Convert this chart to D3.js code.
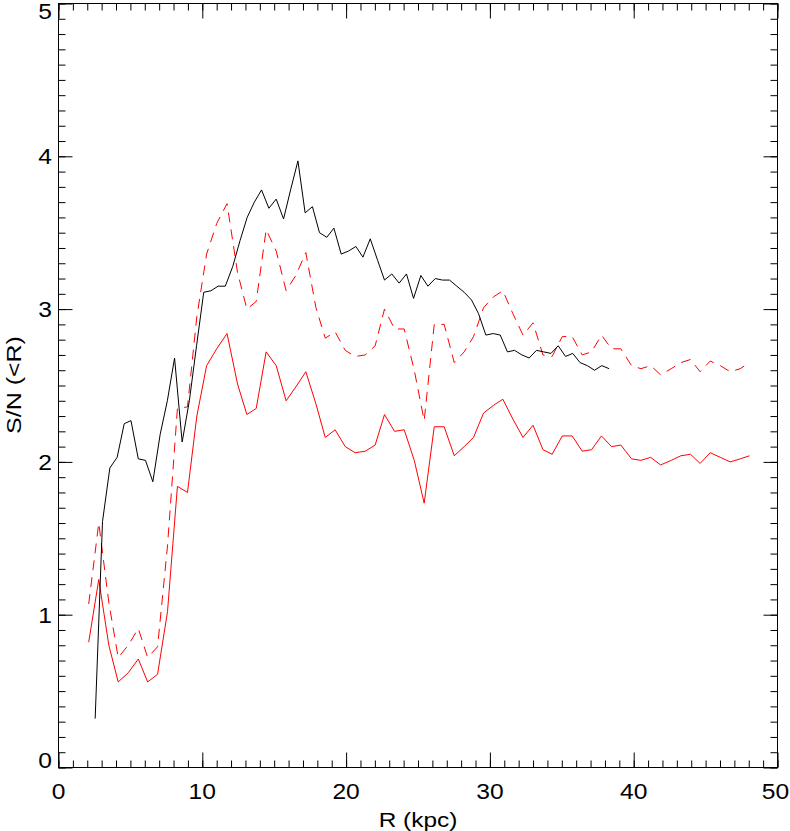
<!DOCTYPE html>
<html>
<head>
<meta charset="UTF-8">
<title>S/N (&lt;R)</title>
<script src="https://cdn.jsdelivr.net/npm/d3@7"></script>
<style>
  body { margin: 0; background: #fff; }
  text { font-family: "Liberation Sans", Arial, Helvetica, sans-serif; fill: #000; }
  .frame { fill: none; stroke: #000; stroke-width: 1; }
  .axis path { display: none; }
  .axis line { stroke: #000; stroke-width: 1; }
</style>
</head>
<body>
<svg id="chart"></svg>
<script>
// black curve (solid)
var blackR = [2.55, 3.06, 3.57, 4.08, 4.57, 5.04, 5.55, 6.05, 6.56, 7.07,
              7.57, 8.07, 8.6, 9.1, 9.6, 10.1, 10.6, 11.1, 11.6, 12.12,
              12.63, 13.12, 13.62, 14.12, 14.63, 15.14, 15.65, 16.14, 16.65, 17.15,
              17.66, 18.15, 18.66, 19.15, 19.66, 20.17, 20.68, 21.17, 21.68, 22.19,
              22.67, 23.18, 23.69, 24.2, 24.69, 25.2, 25.69, 26.2, 26.7, 27.19,
              27.7, 28.21, 28.72, 29.21, 29.72, 30.23, 30.72, 31.22, 31.71, 32.23,
              32.73, 33.24, 33.74, 34.25, 34.75, 35.26, 35.76, 36.27, 36.77, 37.28,
              37.78, 38.29];
var blackSN = [0.32, 1.61, 1.96, 2.03, 2.25, 2.27, 2.02, 2.01, 1.87, 2.18,
               2.40, 2.68, 2.13, 2.40, 2.76, 3.11, 3.12, 3.15, 3.15, 3.28,
               3.45, 3.60, 3.70, 3.78, 3.66, 3.72, 3.59, 3.78, 3.97, 3.63,
               3.67, 3.50, 3.47, 3.53, 3.36, 3.38, 3.41, 3.34, 3.46, 3.32,
               3.19, 3.23, 3.17, 3.23, 3.07, 3.22, 3.15, 3.20, 3.19, 3.19,
               3.15, 3.11, 3.06, 2.97, 2.83, 2.84, 2.83, 2.72, 2.73, 2.70,
               2.68, 2.73, 2.72, 2.71, 2.76, 2.69, 2.71, 2.65, 2.63, 2.60,
               2.63, 2.61];

// red curves (solid and dashed share the same radii)
var redR = [2.1, 2.8, 3.5, 4.15, 4.85, 5.55, 6.2, 6.89, 7.58, 8.27,
            8.97, 9.62, 10.3, 11.0, 11.72, 12.45, 13.1, 13.75, 14.44, 15.14,
            15.83, 16.5, 17.2, 17.9, 18.55, 19.24, 19.94, 20.63, 21.33, 22.02,
            22.67, 23.37, 24.04, 24.74, 25.43, 26.13, 26.82, 27.52, 28.21, 28.86,
            29.56, 30.25, 30.9, 31.6, 32.3, 33.0, 33.69, 34.33, 35.03, 35.72,
            36.42, 37.07, 37.76, 38.46, 39.11, 39.85, 40.5, 41.18, 41.87, 42.61,
            43.28, 43.95, 44.62, 45.32, 46.02, 46.71, 47.41, 48.05];
var redSolidSN = [0.82, 1.23, 0.80, 0.56, 0.62, 0.71, 0.56, 0.61, 1.02, 1.84,
                  1.80, 2.30, 2.63, 2.74, 2.84, 2.51, 2.31, 2.35, 2.72, 2.63,
                  2.40, 2.49, 2.59, 2.38, 2.16, 2.21, 2.10, 2.06, 2.07, 2.11,
                  2.31, 2.20, 2.21, 2.01, 1.73, 2.23, 2.23, 2.04, 2.10, 2.16,
                  2.32, 2.37, 2.41, 2.28, 2.16, 2.24, 2.08, 2.05, 2.17, 2.17,
                  2.07, 2.08, 2.17, 2.10, 2.11, 2.02, 2.01, 2.03, 1.98, 2.01,
                  2.04, 2.05, 1.99, 2.06, 2.03, 2.00, 2.02, 2.04];
var redDashSN = [1.07, 1.60, 1.08, 0.72, 0.80, 0.91, 0.72, 0.79, 1.45, 2.35,
                 2.36, 2.95, 3.36, 3.56, 3.69, 3.24, 3.00, 3.05, 3.52, 3.38,
                 3.12, 3.22, 3.37, 3.01, 2.81, 2.85, 2.73, 2.69, 2.70, 2.76,
                 3.00, 2.87, 2.87, 2.60, 2.27, 2.90, 2.90, 2.65, 2.72, 2.82,
                 3.01, 3.08, 3.12, 2.97, 2.83, 2.91, 2.70, 2.69, 2.82, 2.82,
                 2.70, 2.72, 2.83, 2.74, 2.74, 2.63, 2.61, 2.63, 2.57, 2.61,
                 2.65, 2.67, 2.59, 2.66, 2.63, 2.59, 2.61, 2.65];

// axis ticks
var xTicks = [0, 10, 20, 30, 40, 50];
var yTicks = [0, 1, 2, 3, 4, 5];
var xMinor = d3.range(0, 50.01, 1);
var yMinor = d3.range(0, 5.001, 0.1);

var width = 790, height = 831;
var plotL = 58.5, plotR = 777.5, plotT = 3.5, plotB = 767.5;

var svg = d3.select("#chart")
    .attr("width", width)
    .attr("height", height);

var x = d3.scaleLinear().domain([0, 50]).range([plotL, plotR]);
var y = d3.scaleLinear().domain([0, 5]).range([plotB, plotT]);

// ticks on all four sides, pointing inward
function ticks(axisFn, pos, values, size) {
    svg.append("g")
        .attr("class", "axis")
        .attr("transform", pos)
        .call(axisFn.tickValues(values).tickSize(size).tickFormat(""));
}
ticks(d3.axisBottom(x), "translate(0," + plotB + ")", xMinor, -7);
ticks(d3.axisBottom(x), "translate(0," + plotB + ")", xTicks, -15);
ticks(d3.axisTop(x), "translate(0," + plotT + ")", xMinor, -7);
ticks(d3.axisTop(x), "translate(0," + plotT + ")", xTicks, -15);
ticks(d3.axisLeft(y), "translate(" + plotL + ",0)", yMinor, -7);
ticks(d3.axisLeft(y), "translate(" + plotL + ",0)", yTicks, -14);
ticks(d3.axisRight(y), "translate(" + plotR + ",0)", yMinor, -7);
ticks(d3.axisRight(y), "translate(" + plotR + ",0)", yTicks, -14);

svg.append("rect")
    .attr("class", "frame")
    .attr("x", plotL).attr("y", plotT)
    .attr("width", plotR - plotL).attr("height", plotB - plotT);

// tick labels
svg.selectAll(".xlab")
    .data(xTicks)
    .enter()
    .append("text")
    .attr("class", "xlab")
    .attr("text-anchor", "middle")
    .attr("font-size", 22)
    .attr("transform", function (d) {
        var cx = x(d);
        if (d === 50) cx = 775.5;
        return "translate(" + cx + ",799) scale(1.12,1)";
    })
    .text(function (d) { return d; });

svg.selectAll(".ylab")
    .data(yTicks)
    .enter()
    .append("text")
    .attr("class", "ylab")
    .attr("text-anchor", "end")
    .attr("font-size", 22)
    .attr("transform", function (d) {
        var base = y(d) + 8;
        if (d === 0) base = y(d);
        if (d === 5) base = y(d) + 15.5;
        return "translate(52," + base + ") scale(1.12,1)";
    })
    .text(function (d) { return d; });

// axis titles
svg.append("text")
    .attr("text-anchor", "middle")
    .attr("font-size", 20)
    .attr("transform", "translate(418,827) scale(1.22,1)")
    .text("R (kpc)");

svg.append("text")
    .attr("text-anchor", "middle")
    .attr("font-size", 21)
    .attr("transform", "translate(21,385) rotate(-90) scale(1.19,1)")
    .text("S/N (<R)");

// curves
var line = d3.line()
    .x(function (d) { return x(d[0]); })
    .y(function (d) { return y(d[1]); });

svg.append("path")
    .datum(d3.zip(redR, redDashSN))
    .attr("d", line)
    .attr("fill", "none")
    .attr("stroke", "#ff0000")
    .attr("stroke-width", 1)
    .attr("stroke-dasharray", "10,7");

svg.append("path")
    .datum(d3.zip(redR, redSolidSN))
    .attr("d", line)
    .attr("fill", "none")
    .attr("stroke", "#ff0000")
    .attr("stroke-width", 1);

svg.append("path")
    .datum(d3.zip(blackR, blackSN))
    .attr("d", line)
    .attr("fill", "none")
    .attr("stroke", "#000")
    .attr("stroke-width", 1);
</script>
</body>
</html>
